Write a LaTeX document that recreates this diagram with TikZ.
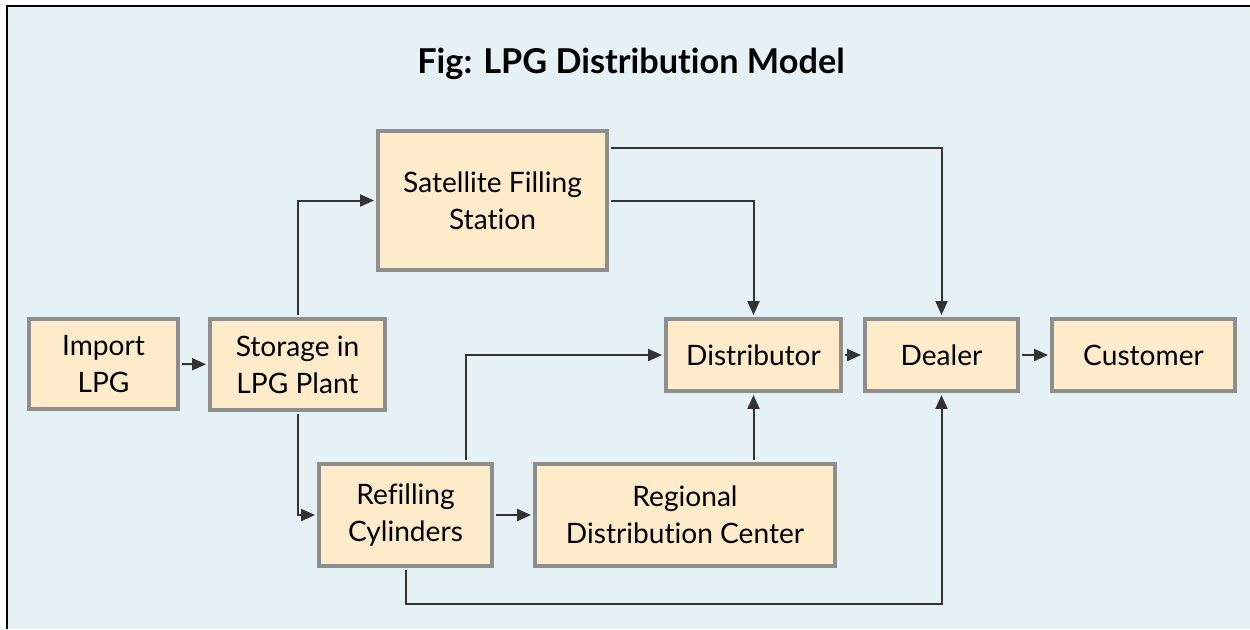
\documentclass[tikz,border=0pt]{standalone}
\usepackage{fontspec}
\setmainfont[Ligatures=NoCommon]{Lato}
\usepackage {tikz}
\usetikzlibrary{positioning, arrows.meta}
\usepackage {xcolor}
\definecolor{bgblue}{HTML}{E6F1F5}
\definecolor{boxfill}{HTML}{FDEBC9}
\definecolor{boxline}{HTML}{8E8E8E}
\definecolor{linkcol}{HTML}{333333}

\begin{document}
\begin{tikzpicture}[x=0.02cm, y=-0.02cm,
    box/.style={draw=boxline, fill=boxfill, line width=0.08cm, align=center, inner sep=0pt, font=\fontsize{16}{21}\selectfont},
    link/.style={draw=linkcol, line width=0.04cm, shorten <=0.04cm, shorten >=0.04cm, -{Triangle[length=0.28cm, width=0.24cm]}}]
\useasboundingbox (0,0) rectangle (1250,629);
\fill[bgblue] (7,6) rectangle (1250,629);
\draw[line width=0.04cm] (7,629) -- (7,6) -- (1250,6);
\node[font=\bfseries\fontsize{19.5}{23}\selectfont] (title) at (631,64) {Fig: LPG Distribution Model};

%boxes
\node[box, minimum width=2.98cm, minimum height=1.8cm] (import) at (103.5,364) {Import\\LPG};
\node[box, minimum width=3.5cm, minimum height=1.82cm] (storage) at (297.5,364.5) {Storage in\\LPG Plant};
\node[box, minimum width=4.58cm, minimum height=2.78cm] (satellite) at (492.5,200.5) {Satellite Filling\\Station};
\node[box, minimum width=3.46cm, minimum height=2.04cm] (refilling) at (405.5,515) {Refilling\\Cylinders};
\node[box, minimum width=6cm, minimum height=2.04cm] (regional) at (685,515) {Regional\\Distribution Center};
\node[box, minimum width=3.5cm, minimum height=1.44cm] (distributor) at (753.5,355) {Distributor};
\node[box, minimum width=3.06cm, minimum height=1.44cm] (dealer) at (941.5,355) {Dealer};
\node[box, minimum width=3.66cm, minimum height=1.44cm] (customer) at (1143.5,355) {Customer};

%links
\draw[link] (import) -- (storage);
\draw[link] (storage.north) |- (satellite.west);
\draw[link] (storage.south) |- (refilling.west);
\draw[link] (refilling) -- (regional);
\draw[link] ([xshift=1.22cm]refilling.north) |- (distributor.west);
\draw[link] (regional.north -| distributor.south) -- (distributor.south);
\draw[link] (refilling.south) -- ++(0,36) -| (dealer.south);
\draw[link] (satellite.east) -| (distributor.north);
\draw[link] ([yshift=1.05cm]satellite.east) -| (dealer.north);
\draw[link] (distributor) -- (dealer);
\draw[link] (dealer) -- (customer);

\end{tikzpicture}
\end{document}
